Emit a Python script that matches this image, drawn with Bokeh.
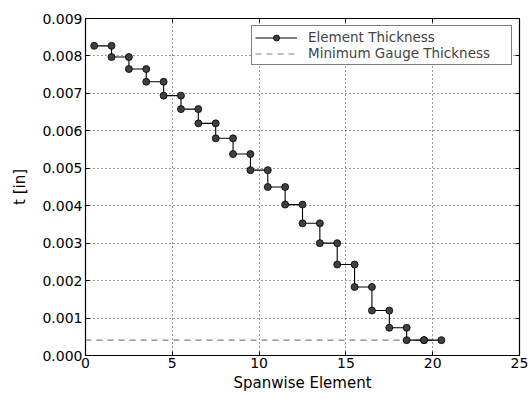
from bokeh.plotting import figure
from bokeh.models import (Range1d, LinearAxis, PrintfTickFormatter, FixedTicker,
                          Legend, LegendItem)
from bokeh.embed import file_html
from bokeh.resources import INLINE

# Element thickness per spanwise element (elements 1..20)
elements = list(range(1, 21))
thickness = [0.00827, 0.00797, 0.00765, 0.00731, 0.00694, 0.00658, 0.00620,
             0.00580, 0.00538, 0.00495, 0.00450, 0.00403, 0.00353, 0.00300,
             0.00243, 0.00183, 0.00120, 0.00074, 0.00041, 0.00041]
min_gauge = 0.00041
min_gauge_x = [0.0, 20.5]
x_ticks = [0, 5, 10, 15, 20, 25]
y_ticks = [0.000, 0.001, 0.002, 0.003, 0.004, 0.005, 0.006, 0.007, 0.008, 0.009]

# step outline: each element spans [e-0.5, e+0.5]
xs, ys = [], []
for e, t in zip(elements, thickness):
    xs += [e - 0.5, e + 0.5]
    ys += [t, t]

FONT = "DejaVu Sans"

p = figure(width=532, height=399, output_backend="svg", toolbar_location=None,
           x_range=Range1d(0, 25), y_range=Range1d(0, 0.009),
           min_border_left=85, min_border_right=13, min_border_top=18,
           min_border_bottom=44)
p.background_fill_color = "white"
p.border_fill_color = "white"
p.outline_line_color = "black"
p.outline_line_width = 1.2

# grids
for g in (p.xgrid, p.ygrid):
    g.grid_line_color = "black"
    g.grid_line_dash = "1 3"
    g.grid_line_width = 1
    g.grid_line_alpha = 0.8
p.xgrid.ticker = FixedTicker(ticks=x_ticks)
p.ygrid.ticker = FixedTicker(ticks=y_ticks)

# axes
p.xaxis.ticker = FixedTicker(ticks=x_ticks)
p.yaxis.ticker = FixedTicker(ticks=y_ticks)
p.yaxis.formatter = PrintfTickFormatter(format="%.3f")
for ax in (p.xaxis[0], p.yaxis[0]):
    ax.major_tick_in = 4
    ax.major_tick_out = 0
    ax.minor_tick_in = 0
    ax.minor_tick_out = 0
    ax.axis_line_color = None
    ax.major_tick_line_color = "black"
    ax.major_label_text_font = FONT
    ax.major_label_text_font_size = "14px"
    ax.major_label_text_color = "black"
    ax.axis_label_text_font = FONT
    ax.axis_label_text_font_size = "15px"
    ax.axis_label_text_font_style = "normal"
    ax.axis_label_text_color = "black"
p.xaxis.axis_label = "Spanwise Element"
p.yaxis.axis_label = "t [in]"
p.xaxis.major_label_standoff = 2
p.yaxis.major_label_standoff = 3
p.xaxis.axis_label_standoff = 3
p.yaxis.axis_label_standoff = 10

# ticks on top and right (no labels)
top = LinearAxis(ticker=FixedTicker(ticks=x_ticks), major_tick_in=4, major_tick_out=0,
                 minor_tick_in=0, minor_tick_out=0, axis_line_color=None,
                 major_label_overrides={t: "" for t in x_ticks},
                 major_label_standoff=0)
right = LinearAxis(ticker=FixedTicker(ticks=y_ticks), major_tick_in=4, major_tick_out=0,
                   minor_tick_in=0, minor_tick_out=0, axis_line_color=None,
                   major_label_overrides={t: "" for t in y_ticks},
                   major_label_standoff=0)
p.add_layout(top, "above")
p.add_layout(right, "right")

# minimum gauge line
mg = p.line(min_gauge_x, [min_gauge, min_gauge], line_color="#808080",
            line_dash="6 5", line_width=1.2)

# element thickness
ln = p.line(xs, ys, line_color="black", line_width=1.1)
sc = p.scatter(xs, ys, marker="circle", size=7, fill_color="#404040",
               line_color="black", line_width=0.8)

legend = Legend(items=[LegendItem(label="Element Thickness", renderers=[ln, sc]),
                       LegendItem(label="Minimum Gauge Thickness", renderers=[mg])],
                location="top_right")
legend.margin = 7
legend.padding = 3
legend.spacing = 0
legend.label_text_font = FONT
legend.label_text_font_size = "13.5px"
legend.label_height = 15
legend.glyph_height = 15
legend.glyph_width = 42
legend.label_standoff = 11
legend.label_width = 200
legend.border_line_color = "black"
legend.border_line_width = 1
legend.background_fill_alpha = 1
p.add_layout(legend)

open("out.html", "w").write(file_html(p, INLINE))
